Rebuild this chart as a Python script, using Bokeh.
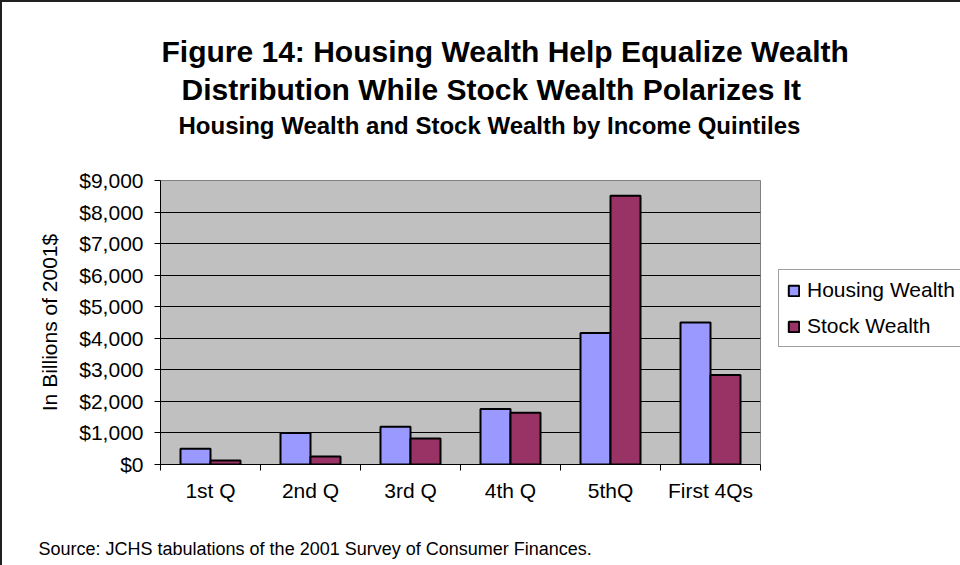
from bokeh.plotting import figure
from bokeh.models import (ColumnDataSource, FixedTicker, NumeralTickFormatter,
                          Legend, LegendItem, Range1d, Title)
from bokeh.transform import dodge
from bokeh.embed import file_html
from bokeh.resources import INLINE

# ---- data ----
categories = ["1st Q", "2nd Q", "3rd Q", "4th Q", "5thQ", "First 4Qs"]
housing_wealth = [500, 1000, 1200, 1760, 4170, 4500]
stock_wealth = [130, 250, 820, 1640, 8520, 2840]
y_ticks = [0, 1000, 2000, 3000, 4000, 5000, 6000, 7000, 8000, 9000]
series_names = ["Housing Wealth", "Stock Wealth"]
title_line1 = "Figure 14:  Housing Wealth Help Equalize Wealth"
title_line2 = "Distribution While Stock Wealth Polarizes It"
subtitle = "Housing Wealth and Stock Wealth by Income Quintiles"
y_label = "In Billions of 2001$"
source_note = "Source: JCHS tabulations of the 2001 Survey of Consumer Finances."

FONT = "Liberation Sans"
positions = [i + 0.5 for i in range(len(categories))]
src = ColumnDataSource(dict(x=positions, cat=categories,
                            housing=housing_wealth, stock=stock_wealth))

p = figure(frame_width=600, frame_height=284, output_backend="svg", toolbar_location=None,
           x_range=Range1d(0, len(categories)), y_range=Range1d(0, 9000),
           min_border_left=158, min_border_right=200,
           min_border_top=178, min_border_bottom=101,
           title=None)
p.styles = {"border-left": "2px solid #202020", "border-top": "2px solid #202020"}
p.background_fill_color = "#C0C0C0"
p.border_fill_color = "white"
p.outline_line_color = "#808080"
p.outline_line_width = 1

r_h = p.vbar(x=dodge("x", -0.15), top="housing", width=0.3, source=src,
             fill_color="#9999FF", line_color="black", line_width=2)
r_s = p.vbar(x=dodge("x", 0.15), top="stock", width=0.3, source=src,
             fill_color="#993366", line_color="black", line_width=2)

# x axis
xa = p.xaxis[0]
xa.ticker = FixedTicker(ticks=positions, minor_ticks=list(range(len(categories) + 1)))
xa.major_label_overrides = {pos: cat for pos, cat in zip(positions, categories)}
xa.major_tick_out = 0
xa.major_tick_in = 0
xa.minor_tick_out = 6
xa.minor_tick_in = 0
xa.minor_tick_line_color = "black"
xa.axis_line_color = "black"
xa.major_label_standoff = 8
xa.major_label_text_font = FONT
xa.major_label_text_font_size = "21px"
xa.major_label_text_color = "black"

# y axis
ya = p.yaxis[0]
ya.ticker = FixedTicker(ticks=y_ticks)
ya.formatter = NumeralTickFormatter(format="$0,0")
ya.major_tick_out = 6
ya.major_tick_in = 0
ya.minor_tick_out = 0
ya.minor_tick_in = 0
ya.major_tick_line_color = "black"
ya.axis_line_color = "black"
ya.major_label_standoff = 11
ya.major_label_text_font = FONT
ya.major_label_text_font_size = "21px"
ya.major_label_text_color = "black"
ya.axis_label = y_label
ya.axis_label_text_font = FONT
ya.axis_label_text_font_size = "21px"
ya.axis_label_text_font_style = "normal"
ya.axis_label_text_color = "black"
ya.axis_label_standoff = 15

p.xgrid.visible = False
p.ygrid.ticker = FixedTicker(ticks=y_ticks)
p.ygrid.grid_line_color = "black"
p.ygrid.grid_line_width = 1

# legend (right side panel)
legend = Legend(items=[LegendItem(label=series_names[0], renderers=[r_h]),
                       LegendItem(label=series_names[1], renderers=[r_s])],
                location=(18, 117), orientation="vertical",
                border_line_color="#404040", border_line_width=1,
                background_fill_color="white", background_fill_alpha=1,
                label_text_font=FONT, label_text_font_size="21px",
                label_text_color="black",
                glyph_width=13, glyph_height=13, label_height=24,
                label_standoff=7, spacing=12, padding=8, margin=0)
p.add_layout(legend, "right")

# titles (above panels stack outward from the frame); first a blank spacer
p.add_layout(Title(text=" ", align="left", standoff=39,
                   text_font=FONT, text_font_size="1px"), "above")
p.add_layout(Title(text=subtitle, align="left", offset=18, standoff=0,
                   text_font=FONT, text_font_size="24px", text_font_style="bold",
                   text_color="black"), "above")
p.add_layout(Title(text=title_line2, align="left", offset=21, standoff=7,
                   text_font=FONT, text_font_size="30px", text_font_style="bold",
                   text_color="black"), "above")
p.add_layout(Title(text=title_line1, align="left", offset=1, standoff=0,
                   text_font=FONT, text_font_size="30px", text_font_style="bold",
                   text_color="black"), "above")

# source note (below the x axis, after a blank spacer)
p.add_layout(Title(text=" ", align="left", standoff=29,
                   text_font=FONT, text_font_size="1px"), "below")
p.add_layout(Title(text=source_note, align="left", offset=-122, standoff=0,
                   text_font=FONT, text_font_size="18px", text_font_style="normal",
                   text_color="black"), "below")

open("out.html", "w").write(file_html(p, INLINE))
